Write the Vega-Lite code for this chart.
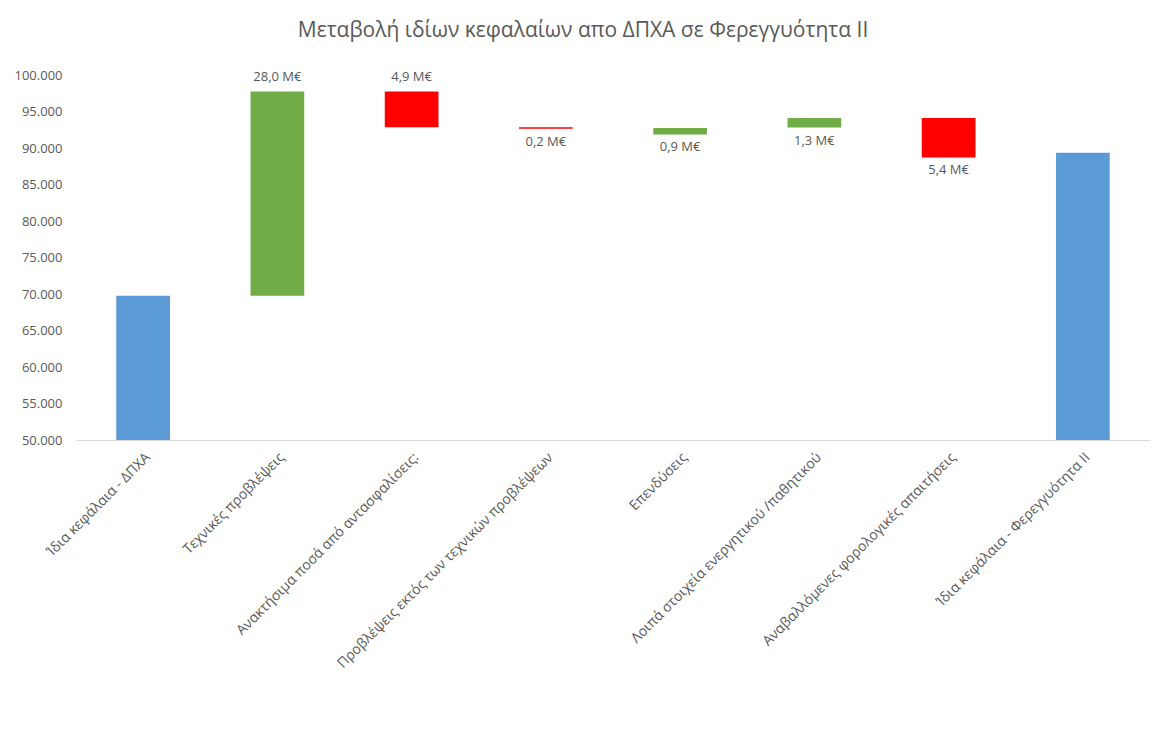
{
  "$schema": "https://vega.github.io/schema/vega-lite/v6.json",
  "width": 1074,
  "height": 365,
  "autosize": {"type": "none"},
  "padding": {"left": 76, "top": 75, "right": 3, "bottom": 298},
  "background": "white",
  "config": {
    "locale": {"number": {"decimal": ",", "thousands": ".", "grouping": [3], "currency": ["", "€"]}},
    "view": {"stroke": null},
    "font": "Open Sans",
    "axisY": {
      "title": null,
      "values": [50000, 55000, 60000, 65000, 70000, 75000, 80000, 85000, 90000, 95000, 100000],
      "format": ",.0f",
      "labelFontSize": 13,
      "labelColor": "#595959",
      "labelPadding": 14,
      "labelOverlap": false,
      "domain": false,
      "ticks": false,
      "grid": false
    }
  },
  "title": {
    "text": "Μεταβολή ιδίων κεφαλαίων απο ΔΠΧΑ σε Φερεγγυότητα ΙΙ",
    "fontSize": 21,
    "fontWeight": "normal",
    "color": "#595959",
    "anchor": "middle",
    "frame": "group",
    "dx": -30,
    "offset": 28
  },
  "data": {
    "values": [
      {"cat": "Ίδια κεφάλαια - ΔΠΧΑ", "start": 50000, "end": 69750, "kind": "total", "label": "", "pos": "none"},
      {"cat": "Τεχνικές προβλέψεις", "start": 69750, "end": 97750, "kind": "up", "label": "28,0 M€", "pos": "above"},
      {"cat": "Ανακτήσιμα ποσά από αντασφαλίσεις:", "start": 97750, "end": 92850, "kind": "down", "label": "4,9 M€", "pos": "above"},
      {"cat": "Προβλέψεις εκτός των τεχνικών προβλέψεων", "start": 92850, "end": 92650, "kind": "down", "label": "0,2 M€", "pos": "below"},
      {"cat": "Επενδύσεις", "start": 91850, "end": 92750, "kind": "up", "label": "0,9 M€", "pos": "below"},
      {"cat": "Λοιπά στοιχεία ενεργητικού /παθητικού", "start": 92800, "end": 94100, "kind": "up", "label": "1,3 M€", "pos": "below"},
      {"cat": "Αναβαλλόμενες φορολογικές απαιτήσεις", "start": 94100, "end": 88700, "kind": "down", "label": "5,4 M€", "pos": "below"},
      {"cat": "Ίδια κεφάλαια - Φερεγγυότητα ΙΙ", "start": 50000, "end": 89350, "kind": "total", "label": "", "pos": "none"}
    ]
  },
  "transform": [
    {"calculate": "max(datum.start, datum.end)", "as": "hi"},
    {"calculate": "min(datum.start, datum.end)", "as": "lo"}
  ],
  "encoding": {
    "x": {
      "field": "cat",
      "type": "nominal",
      "sort": null,
      "scale": {"paddingInner": 0.6, "paddingOuter": 0.3},
      "axis": {
        "title": null,
        "labelAngle": -45,
        "labelFontSize": 14,
        "labelColor": "#595959",
        "labelLimit": 400,
        "labelPadding": 10,
        "ticks": false,
        "domainColor": "#D9D9D9",
        "domainWidth": 1
      }
    }
  },
  "layer": [
    {
      "mark": {"type": "bar"},
      "encoding": {
        "y": {
          "field": "start",
          "type": "quantitative",
          "title": null,
          "scale": {"domain": [50000, 100000], "zero": false}
        },
        "y2": {"field": "end"},
        "color": {
          "field": "kind",
          "type": "nominal",
          "scale": {"domain": ["total", "up", "down"], "range": ["#5B9BD5", "#70AD47", "#FF0000"]},
          "legend": null
        }
      }
    },
    {
      "transform": [{"filter": "datum.pos == 'above'"}],
      "mark": {"type": "text", "dy": -14, "fontSize": 13, "color": "#595959"},
      "encoding": {
        "y": {"field": "hi", "type": "quantitative", "title": null},
        "text": {"field": "label"}
      }
    },
    {
      "transform": [{"filter": "datum.pos == 'below'"}],
      "mark": {"type": "text", "dy": 13, "fontSize": 13, "color": "#595959"},
      "encoding": {
        "y": {"field": "lo", "type": "quantitative", "title": null},
        "text": {"field": "label"}
      }
    }
  ]
}
